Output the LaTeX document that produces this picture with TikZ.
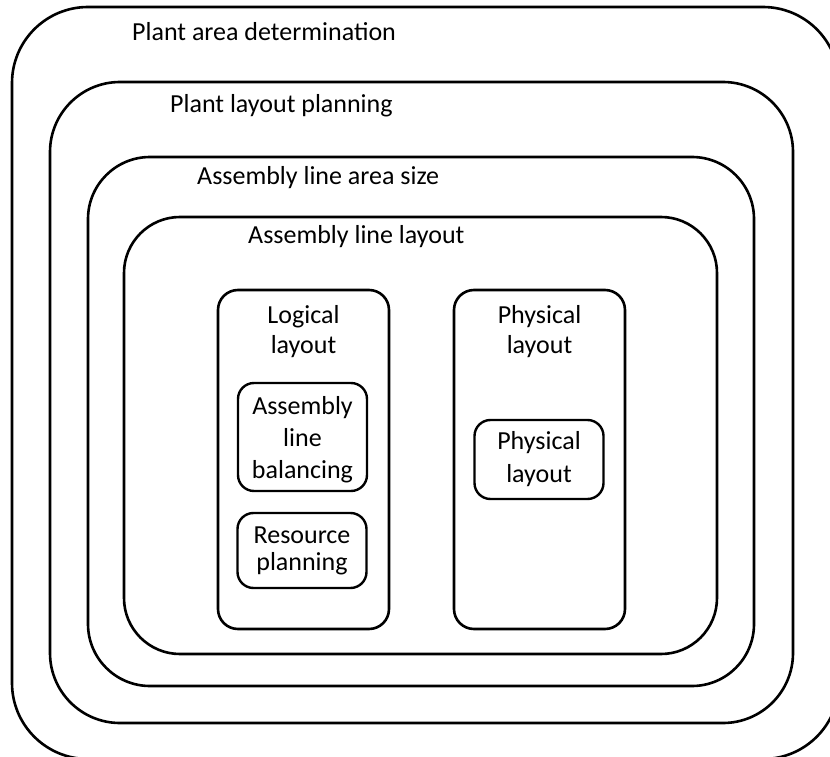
\documentclass[tikz,border=0pt]{standalone}
\usepackage{fontspec}
\setmainfont{Carlito}
\usetikzlibrary{positioning}

\begin{document}
\begin{tikzpicture}[
  x=1pt, y=-1pt,
  font=\fontsize{26}{30}\selectfont,
  areabox/.style={draw,line width=2.6pt,rounded corners=#1,inner sep=0pt},
  taskbox/.style={draw,line width=2.4pt,rounded corners=16pt,align=center,
                  inner sep=0pt,minimum width=129pt},
  boxtitle/.style={inner sep=0pt,align=center},
]
\useasboundingbox (0,0) rectangle (830,757);
\clip (0,0) rectangle (830,757);

%% ===== Nested areas ==========================================================
\node[areabox=76pt,minimum width=827pt,minimum height=752pt] (plant) at (425.5,383) {};
\node[areabox=70pt,minimum width=743pt,minimum height=641pt] (plan)  at (421.5,402.5) {};
\node[areabox=62pt,minimum width=666pt,minimum height=529pt] (area)  at (421,421.5) {};
\node[areabox=56pt,minimum width=593pt,minimum height=437pt] (line)  at (420.5,435.5) {};

\node[boxtitle,anchor=base west] (plant-title) at (132,41)  {Plant area determination};
\node[boxtitle,anchor=base west] (plan-title)  at (170,113) {Plant layout planning};
\node[boxtitle,anchor=base west] (area-title)  at (197,185) {Assembly line area size};
\node[boxtitle,anchor=base west] (line-title)  at (248,243) {Assembly line layout};

%% ===== Logical layout ========================================================
\node[areabox=20pt,minimum width=171pt,minimum height=339pt] (logical) at (303.5,459.5) {};
\node[boxtitle,anchor=base] (logical-title) at (303.5,353) {Logical\\layout};
\node[taskbox,minimum height=108pt,text depth=0pt,font=\fontsize{26}{32}\selectfont]
  (balance) at (302.5,437) {Assembly\\line\\balancing};
\node[taskbox,minimum height=75pt,font=\fontsize{26}{27}\selectfont]
  (resource) at (302,550.5) {Resource\\planning};

%% ===== Physical layout =======================================================
\node[areabox=20pt,minimum width=171pt,minimum height=339pt] (physical) at (539.5,459.5) {};
\node[boxtitle,anchor=base] (physical-title) at (539.5,353) {Physical\\layout};
\node[taskbox,minimum height=79pt,font=\fontsize{26}{33}\selectfont]
  (physical-task) at (539,459.5) {Physical\\layout};

\end{tikzpicture}
\end{document}
